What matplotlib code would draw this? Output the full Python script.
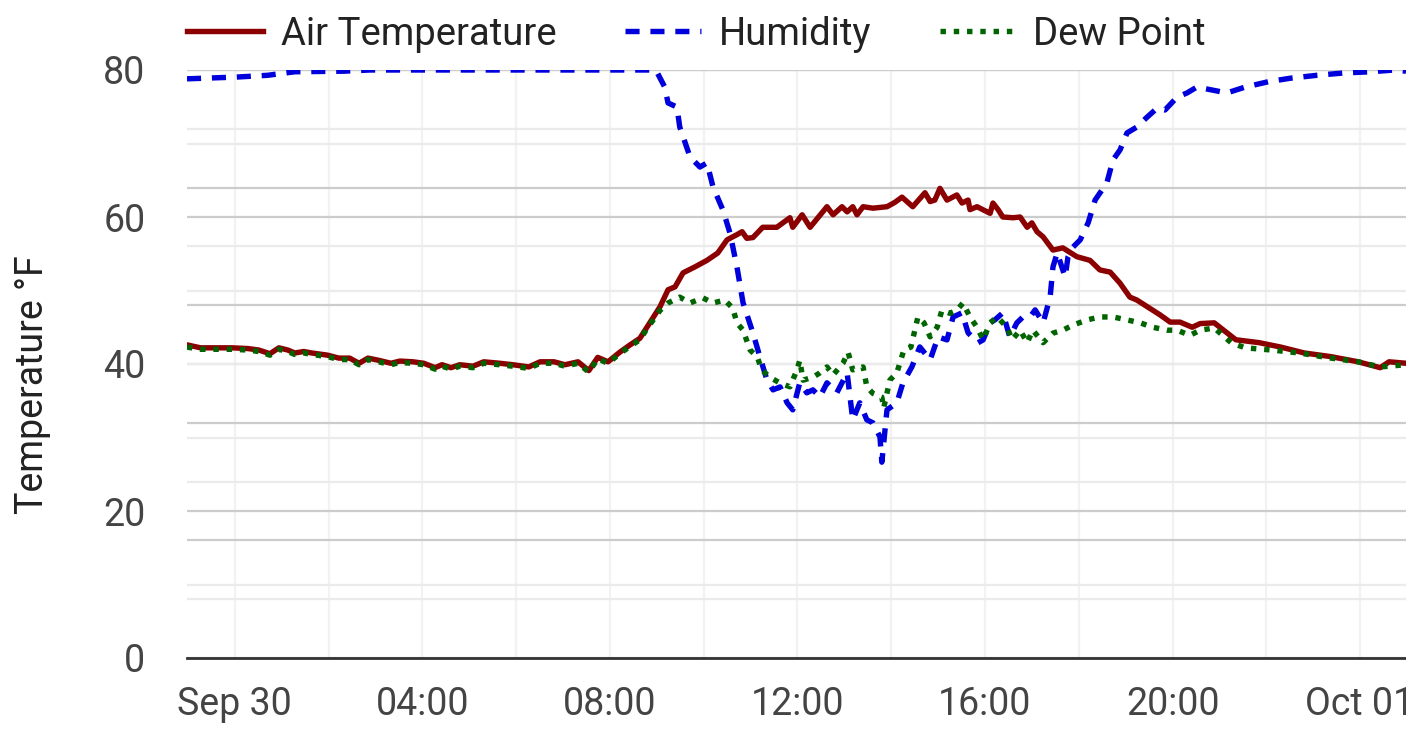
import matplotlib
matplotlib.use("Agg")
import matplotlib.pyplot as plt
import matplotlib.dates as mdates
from matplotlib.ticker import FixedLocator, FuncFormatter
import pandas as pd

plt.rcParams['font.family'] = ['Roboto', 'DejaVu Sans']

# hours from Sep 30 00:00 and readings
temp_hours = [-1.02, -0.73, -0.06, 0.28, 0.51, 0.75, 0.94, 1.13, 1.28, 1.47, 1.64, 1.98,
              2.22, 2.45, 2.65, 2.84, 3.07, 3.33, 3.52, 3.80, 4.03, 4.27, 4.42, 4.61,
              4.80, 5.08, 5.31, 5.65, 5.93, 6.27, 6.51, 6.81, 7.04, 7.32, 7.55, 7.74,
              7.96, 8.21, 8.43, 8.64, 8.79, 9.07, 9.24, 9.39, 9.56, 9.81, 10.07, 10.30,
              10.50, 10.71, 10.82, 10.92, 11.05, 11.26, 11.56, 11.84, 11.90, 12.10, 12.27,
              12.63, 12.76, 12.95, 13.06, 13.18, 13.27, 13.40, 13.61, 13.91, 14.08, 14.23,
              14.46, 14.72, 14.83, 14.93, 15.04, 15.19, 15.40, 15.51, 15.64, 15.68, 15.83,
              16.11, 16.17, 16.28, 16.38, 16.60, 16.75, 16.90, 17.00, 17.11, 17.24, 17.45,
              17.66, 17.96, 18.24, 18.45, 18.67, 18.88, 19.09, 19.24, 19.46, 19.73, 19.95,
              20.16, 20.42, 20.59, 20.89, 21.35, 21.85, 22.31, 22.81, 23.38, 23.96, 24.43,
              24.62, 24.98]
air_temp = [42.6, 42.2, 42.2, 42.1, 41.9, 41.4, 42.2, 41.9, 41.5, 41.7, 41.5, 41.2,
            40.8, 40.8, 40.1, 40.8, 40.5, 40.1, 40.4, 40.3, 40.1, 39.5, 39.9, 39.5,
            39.9, 39.7, 40.3, 40.1, 39.9, 39.6, 40.3, 40.3, 39.9, 40.3, 39.1, 40.9,
            40.3, 41.6, 42.6, 43.5, 45.0, 47.8, 50.1, 50.5, 52.4, 53.2, 54.1, 55.1,
            56.9, 57.6, 58.0, 57.1, 57.2, 58.6, 58.6, 59.9, 58.6, 60.3, 58.6,
            61.4, 60.3, 61.4, 60.7, 61.4, 60.3, 61.4, 61.2, 61.4, 62.0, 62.7,
            61.4, 63.3, 62.1, 62.3, 63.9, 62.3, 63.0, 61.9, 62.3, 61.0, 61.4,
            60.5, 61.9, 61.0, 60.0, 59.9, 60.0, 58.6, 59.2, 58.0, 57.3, 55.5,
            55.8, 54.6, 54.1, 52.8, 52.5, 51.0, 49.1, 48.7, 47.8, 46.7, 45.7,
            45.7, 45.0, 45.5, 45.6, 43.3, 42.9, 42.3, 41.5, 41.0, 40.3, 39.5,
            40.3, 40.1]

hum_hours = [-1.02, 0.04, 0.70, 1.28, 2.33, 2.88, 8.98, 9.17, 9.24, 9.43, 9.49, 9.71,
             9.92, 10.07, 10.20, 10.41, 10.56, 10.71, 10.84, 11.05, 11.20, 11.35, 11.48,
             11.63, 11.78, 11.90, 12.05, 12.20, 12.33, 12.48, 12.63, 12.84, 13.06, 13.18,
             13.33, 13.48, 13.61, 13.76, 13.80, 13.91, 14.12, 14.25, 14.44, 14.61, 14.83,
             15.00, 15.19, 15.32, 15.51, 15.64, 15.85, 15.96, 16.11, 16.21, 16.38, 16.53,
             16.68, 16.81, 16.96, 17.07, 17.24, 17.39, 17.45, 17.54, 17.71, 17.77, 17.88,
             18.03, 18.20, 18.35, 18.60, 18.73, 18.88, 19.03, 19.24, 19.46, 19.67, 19.84,
             20.10, 20.31, 20.52, 21.16, 21.55, 22.04, 22.51, 23.08, 23.66, 24.23, 24.73,
             24.98]
humidity = [98.5, 98.8, 99.1, 99.7, 99.8, 100, 100, 97.1, 94.4, 93.7, 90.3, 85.2,
            83.5, 84.2, 80.1, 76.2, 72.3, 66.5, 60.4, 55.3, 51.2, 47.3, 45.6,
            46.1, 43.4, 42.2, 46.8, 45.1, 45.6, 44.4, 46.8, 45.1, 48.5, 40.5,
            43.4, 40.5, 40.0, 37.6, 33.3, 42.2, 43.4, 46.8, 49.5, 52.9, 50.7,
            54.6, 54.1, 58.0, 58.7, 55.3, 53.6, 54.1, 57.0, 57.5, 58.7, 54.6,
            57.0, 58.0, 58.0, 59.2, 57.0, 61.4, 66.5, 68.9, 64.8, 68.2, 69.9,
            71.1, 74.0, 77.9, 80.8, 84.7, 86.4, 89.3, 90.3, 92.0, 93.5, 93.2,
            95.4, 96.1, 97.1, 96.1, 97.1, 98.0, 98.6, 99.1, 99.5, 99.7, 100,
            99.8]

dew_hours = [-1.02, -0.73, -0.06, 0.28, 0.51, 0.75, 0.94, 1.13, 1.28, 1.47, 1.64, 1.98,
             2.22, 2.45, 2.65, 2.84, 3.07, 3.33, 3.52, 3.80, 4.03, 4.27, 4.42, 4.61,
             4.80, 5.08, 5.31, 5.65, 5.93, 6.27, 6.51, 6.81, 7.04, 7.32, 7.55, 7.74,
             7.96, 8.21, 8.43, 8.64, 8.79, 9.07, 9.24, 9.49, 9.71, 9.98, 10.20, 10.45,
             10.62, 10.71, 10.84, 10.99, 11.14, 11.24, 11.41, 11.63, 11.84, 11.99, 12.05,
             12.12, 12.33, 12.48, 12.63, 12.76, 12.97, 13.08, 13.18, 13.40, 13.48, 13.61,
             13.80, 13.84, 13.97, 14.12, 14.27, 14.42, 14.57, 14.70, 14.83, 14.98, 15.08,
             15.25, 15.40, 15.53, 15.68, 15.83, 15.96, 16.11, 16.26, 16.47, 16.58, 16.75,
             16.90, 17.02, 17.24, 17.45, 17.66, 17.88, 18.18, 18.45, 18.73, 19.03, 19.31,
             19.58, 19.88, 20.10, 20.37, 20.59, 20.89, 21.25, 21.55, 22.12, 22.70, 23.38,
             23.96, 24.43, 24.98]
dew_point = [42.3, 42.0, 42.0, 41.9, 41.7, 41.2, 42.0, 41.7, 41.3, 41.5, 41.3, 41.0,
             40.6, 40.6, 39.9, 40.6, 40.3, 39.9, 40.2, 40.1, 39.9, 39.3, 39.7, 39.3,
             39.7, 39.5, 40.1, 39.9, 39.7, 39.4, 40.1, 40.1, 39.7, 40.1, 38.9, 40.7,
             40.1, 41.4, 42.4, 43.3, 44.8, 47.3, 48.3, 49.1, 48.3, 49.0, 48.3, 48.7,
             47.6, 45.6, 44.6, 41.9, 41.0, 39.2, 38.2, 37.4, 36.9, 39.2, 40.5,
             37.8, 38.2, 38.8, 39.6, 38.5, 40.1, 41.6, 39.2, 39.6, 36.9, 36.0,
             35.5, 34.0, 37.8, 38.8, 41.9, 42.3, 46.4, 45.6, 43.7, 45.0, 47.3,
             46.9, 47.3, 48.3, 46.4, 45.0, 43.3, 45.6, 46.4, 45.0, 43.3, 44.6,
             42.9, 44.6, 42.9, 44.2, 44.6, 45.3, 46.0, 46.4, 46.4, 46.0, 45.6,
             45.0, 44.6, 44.6, 43.9, 44.6, 44.9, 42.9, 42.2, 41.9, 41.5, 40.8,
             40.3, 39.6, 39.9]

day = pd.Timestamp('2024-09-30')


def to_time(hours):
    return day + pd.to_timedelta(hours, unit='h')


fig = plt.figure(figsize=(14.06, 7.49), dpi=100)
ax = fig.add_axes([187 / 1406, 91 / 749, 1219 / 1406, 588 / 749])
ax_h = ax.twinx()

ax.set_xlim(to_time(-1.02), to_time(24.98))
ax.set_ylim(0, 80)
ax_h.set_ylim(0, 100)

# temperature grid
ax.yaxis.set_major_locator(FixedLocator([0, 20, 40, 60, 80]))
ax.yaxis.set_minor_locator(FixedLocator([10, 30, 50, 70]))
ax.grid(which='major', axis='y', color='#cccccc', lw=1.6)
ax.grid(which='minor', axis='y', color='#ebebeb', lw=1.6)
ax.xaxis.set_major_locator(mdates.HourLocator(byhour=range(0, 24, 4)))
ax.xaxis.set_minor_locator(mdates.HourLocator(byhour=range(0, 24, 2)))
ax.grid(which='both', axis='x', color='#f2f2f2', lw=1.6)

# humidity grid (hidden axis)
ax_h.yaxis.set_major_locator(FixedLocator([20, 40, 60, 80, 100]))
ax_h.yaxis.set_minor_locator(FixedLocator([10, 30, 50, 70, 90]))
ax_h.grid(which='major', axis='y', color='#cccccc', lw=1.6)
ax_h.grid(which='minor', axis='y', color='#ebebeb', lw=1.6)
ax_h.tick_params(which='both', right=False, labelright=False)


def date_label(x, pos):
    d = mdates.num2date(x)
    return d.strftime('%b %d') if d.hour == 0 else d.strftime('%H:%M')


ax.xaxis.set_major_formatter(FuncFormatter(date_label))
ax.tick_params(which='both', length=0)
ax.tick_params(axis='y', pad=30, labelsize=27, labelcolor='#444444')
ax.tick_params(axis='x', pad=20, labelsize=27, labelcolor='#444444')

for s in ax.spines.values():
    s.set_visible(False)
for s in ax_h.spines.values():
    s.set_visible(False)
ax.spines['bottom'].set_visible(True)
ax.spines['bottom'].set_color('#333333')
ax.spines['bottom'].set_linewidth(2)
ax.spines['bottom'].set_zorder(5)

# all series on the top axes so they sit above every grid line
lw = 3.9
l1, = ax_h.plot(to_time(temp_hours), air_temp, color='#8b0000', lw=lw,
                transform=ax.transData, label='Air Temperature')
l2, = ax_h.plot(to_time(hum_hours), humidity, color='#0000dd', lw=lw,
                dashes=(2.6, 2.0), label='Humidity')
l3, = ax_h.plot(to_time(dew_hours), dew_point, color='#006400', lw=lw,
                dashes=(1.0, 1.45), transform=ax.transData, label='Dew Point')
ax_h.set_ylim(0, 100)
ax.set_xlim(to_time(-1.02), to_time(24.98))

fig.text(33 / 1406, 364 / 749, 'Temperature °F', rotation=90, ha='center',
         va='center', fontsize=27, color='#222222')

fig.legend(handles=[l1, l2, l3], loc='upper left', bbox_to_anchor=(187 / 1406, 0.979),
           ncol=3, frameon=False, fontsize=27.5, borderpad=0, borderaxespad=0,
           handlelength=2.0, handletextpad=0.45, columnspacing=1.8,
           labelcolor='#222222')

fig.savefig('out.png', dpi=100)
